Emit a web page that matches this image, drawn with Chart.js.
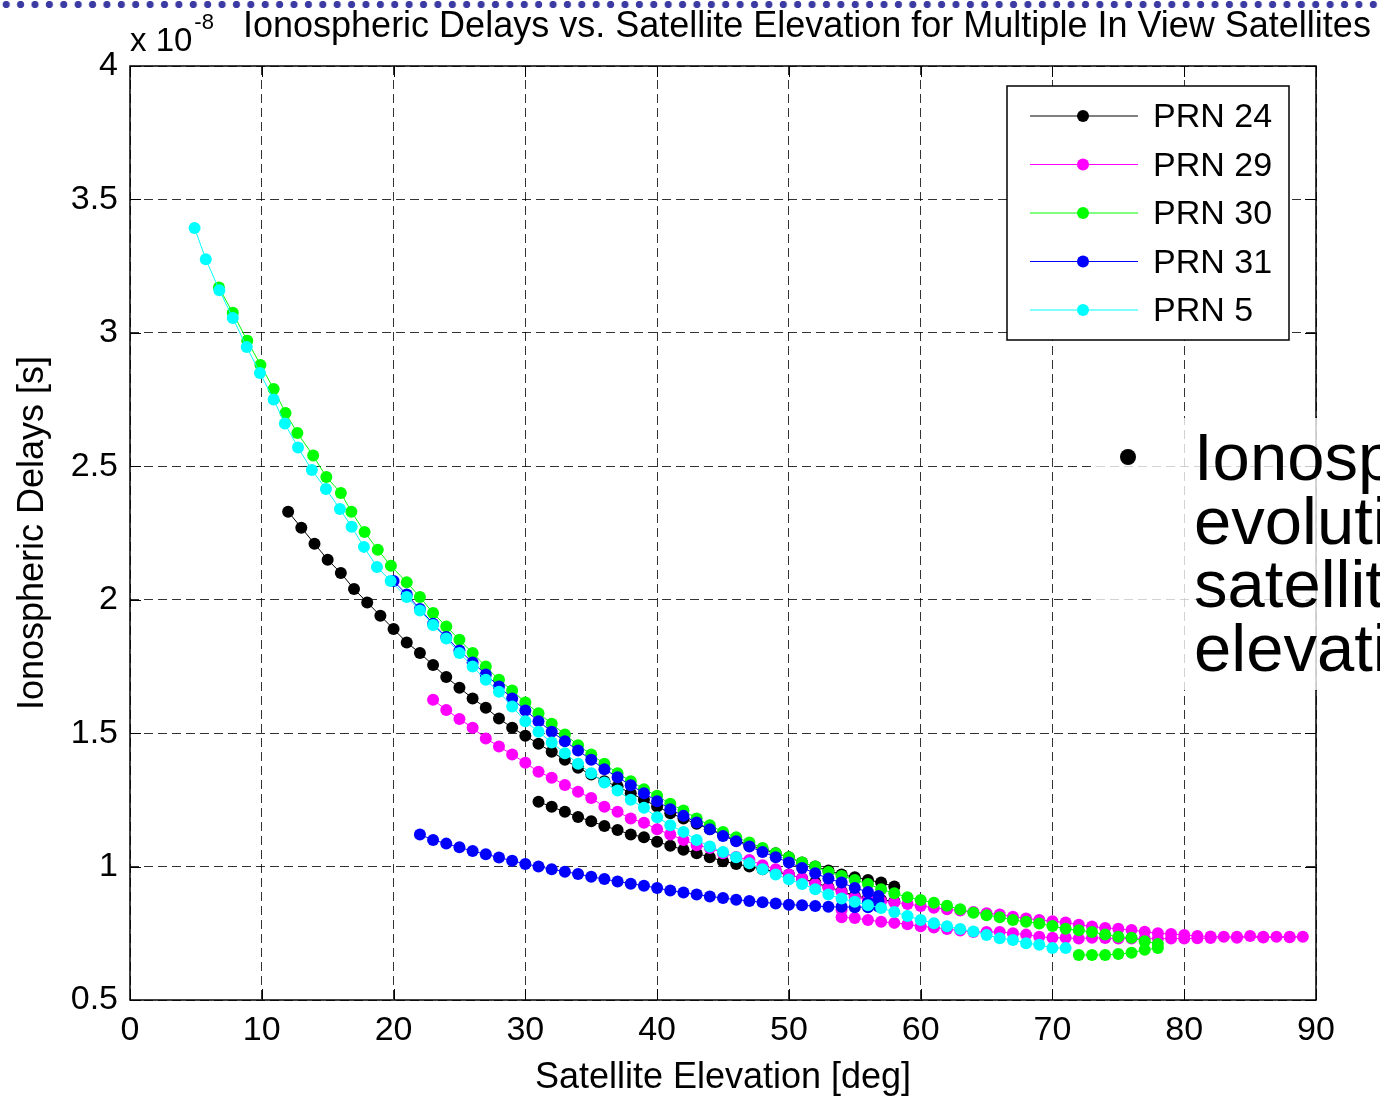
<!DOCTYPE html>
<html>
<head>
<meta charset="utf-8">
<title>Ionospheric Delays vs. Satellite Elevation</title>
<script src="https://cdn.jsdelivr.net/npm/chart.js@4.4.1/dist/chart.umd.min.js"></script>
<style>
  html, body { margin: 0; padding: 0; background: #fff; overflow: hidden; }
  #wrap { position: relative; width: 1380px; height: 1096px; }
  #dots {
    position: absolute; left: 0; top: 0; width: 1380px; height: 9px;
    background-image: radial-gradient(circle, #3b3ba3 3.3px, rgba(59,59,163,0) 4px);
    background-size: 14.4px 9px; background-position: -1px 0;
  }
  #note {
    position: absolute; left: 1093px; top: 418px; width: 287px; height: 272px;
    background: rgba(255,255,255,0.78); overflow: hidden;
  }
  #note .bullet { position: absolute; left: 27px; top: 31px; width: 16px; height: 16px; border-radius: 50%; background: #000; }
  #note .txt {
    position: absolute; left: 101px; top: 7px; white-space: nowrap; color: #000;
    font-family: "Liberation Sans", Arial, sans-serif; font-size: 67px; line-height: 63.5px;
  }
</style>
</head>
<body>
<div id="wrap">
  <canvas id="chart" width="1380" height="1096"></canvas>
  <div id="dots"></div>
  <div id="note">
    <div class="bullet"></div>
    <div class="txt">Ionospheric delay<br>evolution with<br>satellite<br>elevation</div>
  </div>
</div>
<script>
// elevation [deg] and delay [x 1e-8 s] per satellite
const prn24Elev = [12,13,14,15,16,17,18,19,20,21,22,23,24,25,26,27,28,29,30,31,32,33,34,35,36,37,38,39,40,41,42,43,44,45,46,47,48,49,50,51,52,53,54,55,56,57,58,
  58,57,56,55,54,53,52,51,50,49,48,47,46,45,44,43,42,41,40,39,38,37,36,35,34,33,32,31];
const prn24Delay = [2.33,2.27,2.21,2.15,2.10,2.04,1.99,1.94,1.89,1.84,1.80,1.755,1.71,1.67,1.63,1.595,1.555,1.52,1.49,1.46,1.43,1.40,1.37,1.345,1.32,1.30,1.275,1.25,1.225,1.20,1.18,1.16,1.14,1.12,1.10,1.08,1.065,1.05,1.035,1.015,1.00,0.985,0.97,0.96,0.95,0.94,0.925,
  0.87,0.875,0.882,0.89,0.908,0.923,0.94,0.956,0.97,0.98,0.99,1.0,1.01,1.02,1.035,1.05,1.063,1.078,1.093,1.11,1.12,1.137,1.152,1.17,1.186,1.205,1.224,1.243];

const prn29Elev = [23,24,25,26,27,28,29,30,31,32,33,34,35,36,37,38,39,40,41,42,43,44,45,46,47,48,49,50,51,52,53,54,55,56,57,58,59,60,61,62,63,64,65,66,67,68,69,70,71,72,73,74,75,76,77,78,79,80,81,82,83,84,85,86,87,88,89,
  88,86,84,82,81,80,79,78,77,76,75,74,73,72,71,70,69,68,67,66,65,64,63,62,61,60,59,58,57,56,55,54,54];
const prn29Delay = [1.625,1.587,1.553,1.52,1.48,1.45,1.42,1.389,1.355,1.333,1.306,1.28,1.257,1.224,1.205,1.18,1.164,1.14,1.12,1.10,1.08,1.07,1.05,1.036,1.025,1.005,0.99,0.97,0.955,0.935,0.92,0.905,0.885,0.877,0.87,0.866,0.86,0.852,0.846,0.84,0.835,0.83,0.825,0.82,0.812,0.805,0.80,0.795,0.79,0.782,0.775,0.77,0.767,0.762,0.756,0.75,0.747,0.744,0.74,0.738,0.737,0.737,0.74,0.737,0.737,0.737,0.737,
  0.735,0.734,0.733,0.732,0.731,0.73,0.73,0.73,0.73,0.73,0.73,0.732,0.733,0.73,0.733,0.733,0.737,0.745,0.75,0.755,0.755,0.755,0.76,0.766,0.772,0.776,0.784,0.789,0.793,0.80,0.807,0.81,0.838];

const prn30Elev = [6.75,7.8,8.9,9.9,10.9,11.8,12.7,13.9,14.9,16,16.8,17.8,18.8,19.8,21,22,23,24,25,26,27,28,29,30,31,32,33,34,35,36,37,38,39,40,41,42,43,44,45,46,47,48,49,50,51,52,53,54,55,56,57,58,59,60,61,62,63,64,65,66,67,68,69,70,71,72,73,74,75,76,77,78,
  78,77,76,75,74,73,72];
const prn30Delay = [3.17,3.075,2.97,2.88,2.79,2.70,2.625,2.54,2.46,2.40,2.33,2.254,2.187,2.127,2.065,2.01,1.95,1.90,1.85,1.80,1.75,1.70,1.66,1.615,1.575,1.535,1.495,1.455,1.42,1.385,1.35,1.32,1.29,1.265,1.235,1.21,1.18,1.155,1.13,1.11,1.09,1.07,1.05,1.035,1.015,1.0,0.98,0.965,0.95,0.935,0.915,0.90,0.885,0.875,0.864,0.853,0.84,0.827,0.818,0.81,0.80,0.793,0.787,0.777,0.767,0.761,0.755,0.745,0.737,0.733,0.72,0.71,
  0.695,0.688,0.677,0.672,0.669,0.669,0.669];

const prn31Elev = [20,21,22,23,24,25,26,27,28,29,30,31,32,33,34,35,36,37,38,39,40,41,42,43,44,45,46,47,48,49,50,51,52,53,54,55,56,56.8,56.8,56.8,56,56,
  55,54,53,52,51,50,49,48,47,46,45,44,43,42,41,40,39,38,37,36,35,34,33,32,31,30,29,28,27,26,25,24,23,22];
const prn31Delay = [2.07,2.02,1.965,1.91,1.86,1.81,1.765,1.72,1.675,1.63,1.585,1.545,1.505,1.47,1.435,1.40,1.365,1.335,1.305,1.275,1.245,1.215,1.19,1.165,1.14,1.115,1.095,1.075,1.055,1.035,1.015,0.995,0.975,0.955,0.94,0.92,0.905,0.89,0.87,0.85,0.865,0.848,
  0.848,0.849,0.849,0.852,0.855,0.857,0.862,0.866,0.871,0.876,0.882,0.888,0.895,0.903,0.91,0.92,0.928,0.936,0.944,0.953,0.962,0.972,0.981,0.99,1.0,1.01,1.022,1.034,1.046,1.058,1.072,1.086,1.10,1.12];

const prn5Elev = [4.9,5.75,6.78,7.8,8.86,9.86,10.9,11.75,12.75,13.8,14.87,15.93,16.82,17.75,18.74,19.78,21,22,23,24,25,26,27,28,29,30,31,32,33,34,35,36,37,38,39,40,41,42,43,44,45,46,47,48,49,50,51,52,53,54,55,56,57,58,59,60,61,62,63,64,65,66,67,68,69,70,71];
const prn5Delay = [3.393,3.276,3.16,3.056,2.947,2.85,2.75,2.66,2.57,2.486,2.415,2.34,2.273,2.198,2.123,2.07,2.01,1.96,1.905,1.855,1.80,1.75,1.70,1.655,1.60,1.545,1.505,1.465,1.425,1.385,1.35,1.315,1.285,1.25,1.22,1.185,1.155,1.13,1.10,1.075,1.055,1.035,1.012,0.99,0.97,0.952,0.935,0.915,0.895,0.88,0.868,0.855,0.845,0.83,0.815,0.80,0.788,0.776,0.766,0.757,0.744,0.731,0.725,0.713,0.707,0.695,0.695];

const seriesLabels = ['PRN 24', 'PRN 29', 'PRN 30', 'PRN 31', 'PRN 5'];
const seriesColors = ['#000000', '#ff00ff', '#00ff00', '#0000ff', '#00ffff'];
const seriesElev = [prn24Elev, prn29Elev, prn30Elev, prn31Elev, prn5Elev];
const seriesDelay = [prn24Delay, prn29Delay, prn30Delay, prn31Delay, prn5Delay];

const xMin = 0, xMax = 90, xStep = 10;
const yMin = 0.5, yMax = 4, yStep = 0.5;

const FONT = '"Liberation Sans", Arial, sans-serif';

const datasets = seriesLabels.map((label, i) => ({
  label: label,
  data: seriesElev[i].map((e, k) => ({ x: e, y: seriesDelay[i][k] })),
  borderColor: seriesColors[i],
  backgroundColor: seriesColors[i],
  pointBackgroundColor: seriesColors[i],
  pointBorderWidth: 0,
  pointRadius: 6,
  borderWidth: 1,
  tension: 0,
  order: seriesLabels.length - i   // later satellites drawn on top, like matlab
}));

// frame + inward ticks on all four sides
const framePlugin = {
  id: 'frame',
  afterDatasetsDraw(chart) {
    const { ctx, chartArea: a, scales } = chart;
    ctx.save();
    ctx.strokeStyle = '#000';
    ctx.lineWidth = 1;
    ctx.beginPath();
    scales.x.ticks.forEach(t => {
      const px = Math.round(scales.x.getPixelForValue(t.value)) + 0.5;
      ctx.moveTo(px, a.bottom); ctx.lineTo(px, a.bottom - 11);
      ctx.moveTo(px, a.top); ctx.lineTo(px, a.top + 11);
    });
    scales.y.ticks.forEach(t => {
      const py = Math.round(scales.y.getPixelForValue(t.value)) + 0.5;
      ctx.moveTo(a.left, py); ctx.lineTo(a.left + 11, py);
      ctx.moveTo(a.right, py); ctx.lineTo(a.right - 11, py);
    });
    ctx.stroke();
    ctx.lineWidth = 1.5;
    ctx.strokeRect(a.left, a.top, a.right - a.left, a.bottom - a.top);
    ctx.restore();
  }
};

// boxed legend in the upper right corner, plus title and exponent
const legendPlugin = {
  id: 'boxLegend',
  afterDraw(chart) {
    const ctx = chart.ctx;
    const a = chart.chartArea;
    const bx = a.right - 309, by = a.top + 20, bw = 282, bh = 254;
    ctx.save();
    ctx.fillStyle = '#fff';
    ctx.fillRect(bx, by, bw, bh);
    ctx.strokeStyle = '#000';
    ctx.lineWidth = 1.5;
    ctx.strokeRect(bx, by, bw, bh);
    ctx.font = '34px ' + FONT;
    ctx.textBaseline = 'middle';
    chart.data.datasets.forEach((ds, i) => {
      const ry = by + 30 + i * 48.5;
      ctx.strokeStyle = ds.borderColor;
      ctx.lineWidth = 1;
      ctx.beginPath();
      ctx.moveTo(bx + 23, ry); ctx.lineTo(bx + 131, ry);
      ctx.stroke();
      ctx.fillStyle = ds.borderColor;
      ctx.beginPath();
      ctx.arc(bx + 76, ry, 6, 0, Math.PI * 2);
      ctx.fill();
      ctx.fillStyle = '#000';
      ctx.fillText(ds.label, bx + 146, ry + 2);
    });

    // title
    ctx.fillStyle = '#000';
    ctx.textBaseline = 'alphabetic';
    ctx.font = '36px ' + FONT;
    ctx.fillText('Ionospheric Delays vs. Satellite Elevation for Multiple In View Satellites', 243, 37);
    // exponent label
    ctx.font = '33px ' + FONT;
    ctx.fillText('x 10', a.left, 51);
    const w = ctx.measureText('x 10').width;
    ctx.font = '22px ' + FONT;
    ctx.fillText('-8', a.left + 2 + w, 29);
    ctx.restore();
  }
};

new Chart(document.getElementById('chart'), {
  type: 'line',
  data: { datasets: datasets },
  options: {
    responsive: false,
    devicePixelRatio: 1,
    animation: false,
    layout: { padding: { top: 66, right: 64, left: 0, bottom: 0 } },
    plugins: {
      legend: { display: false },
      tooltip: { enabled: false },
      title: { display: false }
    },
    scales: {
      x: {
        type: 'linear',
        min: xMin, max: xMax,
        afterFit: s => { s.height = 96; },
        ticks: { stepSize: xStep, color: '#000', padding: 10, font: { family: FONT, size: 34 },
                 callback: v => String(v) },
        grid: { color: 'rgba(0,0,0,0.8)', lineWidth: 1, drawTicks: false },
        border: { display: false, dash: [9, 5] },
        title: { display: true, text: 'Satellite Elevation [deg]', color: '#000',
                 font: { family: FONT, size: 36, lineHeight: 1 }, padding: { top: 0, bottom: 0 } }
      },
      y: {
        type: 'linear',
        min: yMin, max: yMax,
        afterFit: s => { s.width = 130; },
        ticks: { stepSize: yStep, color: '#000', padding: 12, font: { family: FONT, size: 34 },
                 callback: v => String(v) },
        grid: { color: 'rgba(0,0,0,0.8)', lineWidth: 1, drawTicks: false },
        border: { display: false, dash: [9, 5] },
        title: { display: true, text: 'Ionospheric Delays [s]', color: '#000',
                 font: { family: FONT, size: 36, lineHeight: 1 }, padding: { top: 15, bottom: 0 } }
      }
    }
  },
  plugins: [framePlugin, legendPlugin]
});
</script>
</body>
</html>
